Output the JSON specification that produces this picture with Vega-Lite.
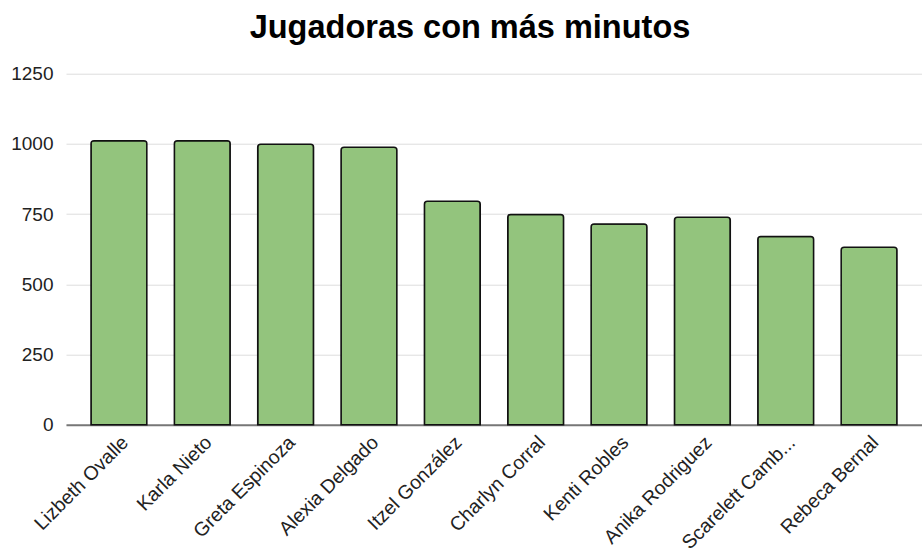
{
  "$schema": "https://vega.github.io/schema/vega-lite/v6.json",
  "autosize": "none",
  "width": 856,
  "height": 351,
  "padding": {"left": 66, "top": 73.7, "right": 0, "bottom": 125.3},
  "background": "white",
  "title": {
    "text": "Jugadoras con más minutos",
    "font": "Liberation Sans",
    "fontSize": 32.5,
    "fontWeight": "bold",
    "color": "#000000",
    "anchor": "middle",
    "frame": "group",
    "dx": -24,
    "offset": 20
  },
  "data": {
    "values": [
      {"jugadora": "Lizbeth Ovalle", "minutos": 1011},
      {"jugadora": "Karla Nieto", "minutos": 1011},
      {"jugadora": "Greta Espinoza", "minutos": 999},
      {"jugadora": "Alexia Delgado", "minutos": 988},
      {"jugadora": "Itzel González", "minutos": 796},
      {"jugadora": "Charlyn Corral", "minutos": 749},
      {"jugadora": "Kenti Robles", "minutos": 715},
      {"jugadora": "Anika Rodriguez", "minutos": 739},
      {"jugadora": "Scarelett Camb...", "minutos": 670},
      {"jugadora": "Rebeca Bernal", "minutos": 632}
    ]
  },
  "mark": {
    "type": "bar",
    "color": "#93c47d",
    "stroke": "#111111",
    "strokeWidth": 1.5,
    "cornerRadiusTopLeft": 3,
    "cornerRadiusTopRight": 3
  },
  "encoding": {
    "x": {
      "field": "jugadora",
      "type": "nominal",
      "sort": null,
      "scale": {"paddingInner": 0.33, "paddingOuter": 0.3},
      "axis": {
        "title": null,
        "labelAngle": -45,
        "labelAlign": "right",
        "labelBaseline": "top",
        "labelFont": "Liberation Sans",
        "labelFontSize": 19.5,
        "labelColor": "#222222",
        "labelOverlap": false,
        "labelLimit": 300,
        "labelPadding": 8,
        "ticks": false,
        "domainColor": "#777777",
        "domainWidth": 2,
        "grid": false
      }
    },
    "y": {
      "field": "minutos",
      "type": "quantitative",
      "scale": {"domain": [0, 1250], "nice": false},
      "axis": {
        "title": null,
        "values": [0, 250, 500, 750, 1000, 1250],
        "format": "d",
        "labelFont": "Liberation Sans",
        "labelFontSize": 19,
        "labelColor": "#222222",
        "labelPadding": 13,
        "ticks": false,
        "domain": false,
        "gridColor": "#dddddd",
        "gridWidth": 1
      }
    }
  },
  "config": {"view": {"stroke": null}}
}
